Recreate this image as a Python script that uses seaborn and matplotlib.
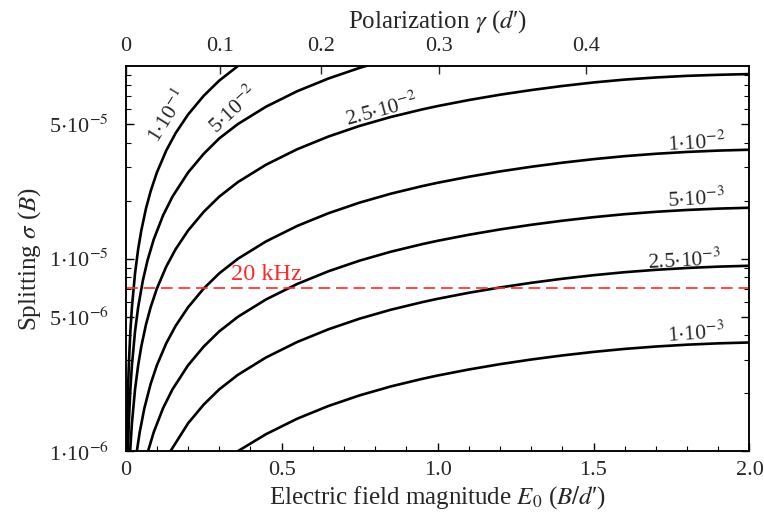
import pandas as pd
import seaborn as sns
import matplotlib.pyplot as plt
from matplotlib.ticker import LogLocator, NullFormatter, MultipleLocator

# curves: field E0 (B/d') and splitting sigma (B), one pair per parameter
E_1e1 = [0.00357, 0.005, 0.0075, 0.01, 0.015, 0.02, 0.03, 0.04, 0.05, 0.065, 0.08, 0.1, 0.13, 0.16, 0.2, 0.25, 0.3, 0.36, 0.38]
s_1e1 = [1.0e-6, 1.4e-6, 2.1e-6, 2.8e-6, 4.2e-6, 5.6e-6, 8.4e-6, 1.12e-5, 1.4e-5, 1.82e-5, 2.24e-5, 2.8e-5, 3.64e-5, 4.48e-5, 5.6e-5, 7.0e-5, 8.4e-5, 1.0e-4, 1.05e-4]

E_5e2 = [0.00714, 0.01, 0.015, 0.02, 0.03, 0.04, 0.055, 0.07, 0.09, 0.12, 0.15, 0.2, 0.25, 0.3, 0.36, 0.45, 0.55, 0.65, 0.75, 0.8]
s_5e2 = [1.0e-6, 1.4e-6, 2.1e-6, 2.8e-6, 4.2e-6, 5.6e-6, 7.7e-6, 9.8e-6, 1.26e-5, 1.68e-5, 2.1e-5, 2.8e-5, 3.5e-5, 4.21e-5, 5.0e-5, 6.15e-5, 7.4e-5, 8.61e-5, 9.78e-5, 1.033e-4]

E_25e2 = [0.0143, 0.02, 0.03, 0.04, 0.05, 0.065, 0.08, 0.1, 0.13, 0.16, 0.2, 0.25, 0.3, 0.36, 0.45, 0.55, 0.65, 0.75,
          0.85, 0.95, 1.0, 1.1, 1.2, 1.3, 1.4, 1.5, 1.6, 1.7, 1.8, 1.9, 2.0]
s_25e2 = [1.0e-6, 1.4e-6, 2.1e-6, 2.8e-6, 3.5e-6, 4.55e-6, 5.6e-6, 7.0e-6, 9.1e-6, 1.12e-5, 1.4e-5, 1.75e-5, 2.1e-5, 2.5e-5,
          3.075e-5, 3.7e-5, 4.305e-5, 4.888e-5, 5.438e-5, 5.95e-5, 6.195e-5, 6.658e-5, 7.095e-5, 7.5e-5, 7.875e-5,
          8.215e-5, 8.5e-5, 8.72e-5, 8.89e-5, 9.0e-5, 9.08e-5]

E_1e2 = [0.0357, 0.045, 0.06, 0.08, 0.1, 0.13, 0.16, 0.2, 0.25, 0.3, 0.36, 0.45, 0.55, 0.65, 0.75, 0.85, 0.95, 1.0,
         1.1, 1.2, 1.3, 1.4, 1.5, 1.6, 1.7, 1.8, 1.9, 2.0]
s_1e2 = [1.0e-6, 1.26e-6, 1.68e-6, 2.24e-6, 2.8e-6, 3.64e-6, 4.48e-6, 5.6e-6, 7.0e-6, 8.4e-6, 1.0e-5, 1.23e-5, 1.48e-5,
         1.722e-5, 1.955e-5, 2.175e-5, 2.38e-5, 2.478e-5, 2.663e-5, 2.838e-5, 3.0e-5, 3.15e-5, 3.286e-5, 3.406e-5,
         3.504e-5, 3.582e-5, 3.64e-5, 3.678e-5]

E_5e3 = [0.0714, 0.09, 0.12, 0.15, 0.2, 0.25, 0.3, 0.36, 0.45, 0.55, 0.65, 0.75, 0.85, 0.95, 1.0, 1.1, 1.2, 1.3, 1.4,
         1.5, 1.6, 1.7, 1.8, 1.9, 2.0]
s_5e3 = [1.0e-6, 1.26e-6, 1.68e-6, 2.1e-6, 2.8e-6, 3.5e-6, 4.2e-6, 5.0e-6, 6.15e-6, 7.4e-6, 8.61e-6, 9.775e-6, 1.0875e-5,
         1.19e-5, 1.239e-5, 1.3315e-5, 1.419e-5, 1.5e-5, 1.575e-5, 1.643e-5, 1.703e-5, 1.752e-5, 1.791e-5, 1.82e-5,
         1.839e-5]

E_25e3 = [0.143, 0.2, 0.25, 0.3, 0.36, 0.45, 0.55, 0.65, 0.75, 0.85, 0.95, 1.0, 1.1, 1.2, 1.3, 1.4, 1.5, 1.6, 1.7,
          1.8, 1.9, 2.0]
s_25e3 = [1.0e-6, 1.4e-6, 1.75e-6, 2.1e-6, 2.5e-6, 3.075e-6, 3.7e-6, 4.305e-6, 4.888e-6, 5.438e-6, 5.95e-6, 6.195e-6,
          6.658e-6, 7.095e-6, 7.5e-6, 7.875e-6, 8.215e-6, 8.515e-6, 8.76e-6, 8.955e-6, 9.1e-6, 9.195e-6]

E_1e3 = [0.358, 0.45, 0.55, 0.65, 0.75, 0.85, 0.95, 1.0, 1.1, 1.2, 1.3, 1.4, 1.5, 1.6, 1.7, 1.8, 1.9, 2.0]
s_1e3 = [1.0e-6, 1.23e-6, 1.48e-6, 1.722e-6, 1.955e-6, 2.175e-6, 2.38e-6, 2.478e-6, 2.663e-6, 2.838e-6, 3.0e-6,
         3.15e-6, 3.286e-6, 3.406e-6, 3.504e-6, 3.582e-6, 3.64e-6, 3.678e-6]

curve_names = ["1e-1", "5e-2", "2.5e-2", "1e-2", "5e-3", "2.5e-3", "1e-3"]
curve_E = [E_1e1, E_5e2, E_25e2, E_1e2, E_5e3, E_25e3, E_1e3]
curve_s = [s_1e1, s_5e2, s_25e2, s_1e2, s_5e3, s_25e3, s_1e3]

# curve labels: text, centre (E0, sigma), angle
label_text = [r"1$\cdot$10$^{-1}$", r"5$\cdot$10$^{-2}$", r"2.5$\cdot$10$^{-2}$", r"1$\cdot$10$^{-2}$",
              r"5$\cdot$10$^{-3}$", r"2.5$\cdot$10$^{-3}$", r"1$\cdot$10$^{-3}$"]
label_E = [0.1356, 0.347, 0.822, 1.83, 1.83, 1.79, 1.83]
label_s = [5.46e-5, 5.93e-5, 5.9e-5, 4.0e-5, 2.03e-5, 9.8e-6, 4.1e-6]
label_rot = [58, 43, 15, 3, 3, 3, 4]

# 20 kHz line
line_20khz = 7.05e-6

# top axis: polarization ticks and where they sit on the E0 axis
gamma_labels = ["0", "0.1", "0.2", "0.3", "0.4"]
gamma_pos = [0.0, 0.303, 0.627, 1.004, 1.475]

rows = []
for name, xs, ys in zip(curve_names, curve_E, curve_s):
    for x, y in zip(xs, ys):
        rows.append((name, x, y))
df = pd.DataFrame(rows, columns=["p", "E0", "sigma"])

sns.set_theme(style="ticks")
plt.rcParams['font.family'] = ['Liberation Serif', 'DejaVu Serif']
plt.rcParams['mathtext.fontset'] = 'stix'

fig = plt.figure(figsize=(7.64, 5.18), dpi=100)
ax = fig.add_axes([0.1645, 0.1284, 0.8165, 0.7442])

sns.lineplot(data=df, x="E0", y="sigma", hue="p", units="p", estimator=None, sort=False,
             palette=["black"] * len(curve_names), legend=False, linewidth=1.9, ax=ax)

red = "#ff2a2a"
ax.axhline(line_20khz, color=red, lw=1.2, dashes=(7, 3.5))
ax.text(0.338, 7.3e-6, "20 kHz", color=red, fontsize=17.5, ha="left", va="bottom")

for t, x, y, r in zip(label_text, label_E, label_s, label_rot):
    ax.text(x, y, t, fontsize=15.5, rotation=r, rotation_mode="anchor", ha="center", va="center")

ax.set_yscale("log")
ax.set_xlim(0, 2.0)
ax.set_ylim(1e-6, 1e-4)

ax.set_xticks([0, 0.5, 1.0, 1.5, 2.0])
ax.set_xticklabels(["0", "0.5", "1.0", "1.5", "2.0"])
ax.xaxis.set_minor_locator(MultipleLocator(0.1))
ax.set_yticks([1e-6, 5e-6, 1e-5, 5e-5])
ax.set_yticklabels([r"1$\cdot$10$^{-6}$", r"5$\cdot$10$^{-6}$", r"1$\cdot$10$^{-5}$", r"5$\cdot$10$^{-5}$"])
ax.yaxis.set_minor_locator(LogLocator(base=10, subs=(2, 3, 4, 6, 7, 8, 9)))
ax.yaxis.set_minor_formatter(NullFormatter())

ax.tick_params(which="both", direction="in", top=False, right=True, labelsize=16, color="black")
ax.tick_params(which="major", length=6, width=1)
ax.tick_params(which="minor", length=3.5, width=0.8)
ax.tick_params(axis="y", pad=12)
ax.tick_params(axis="x", pad=7)

ax.set_xlabel(r"Electric field magnitude $E_0$ ($B/d$′)", fontsize=18, labelpad=3)
ax.set_ylabel(r"Splitting $\sigma$ ($B$)", fontsize=18, labelpad=4)

top = ax.twiny()
top.set_xlim(ax.get_xlim())
top.set_xticks(gamma_pos)
top.set_xticklabels(gamma_labels)
top.tick_params(direction="in", length=6, width=1, labelsize=16, pad=7)
top.set_xlabel(r"Polarization $\gamma$ ($d$′)", fontsize=18, labelpad=7)

for a in (ax, top):
    for s in a.spines.values():
        s.set_linewidth(1.1)
        s.set_color("black")

plt.savefig("out.png", dpi=100)
